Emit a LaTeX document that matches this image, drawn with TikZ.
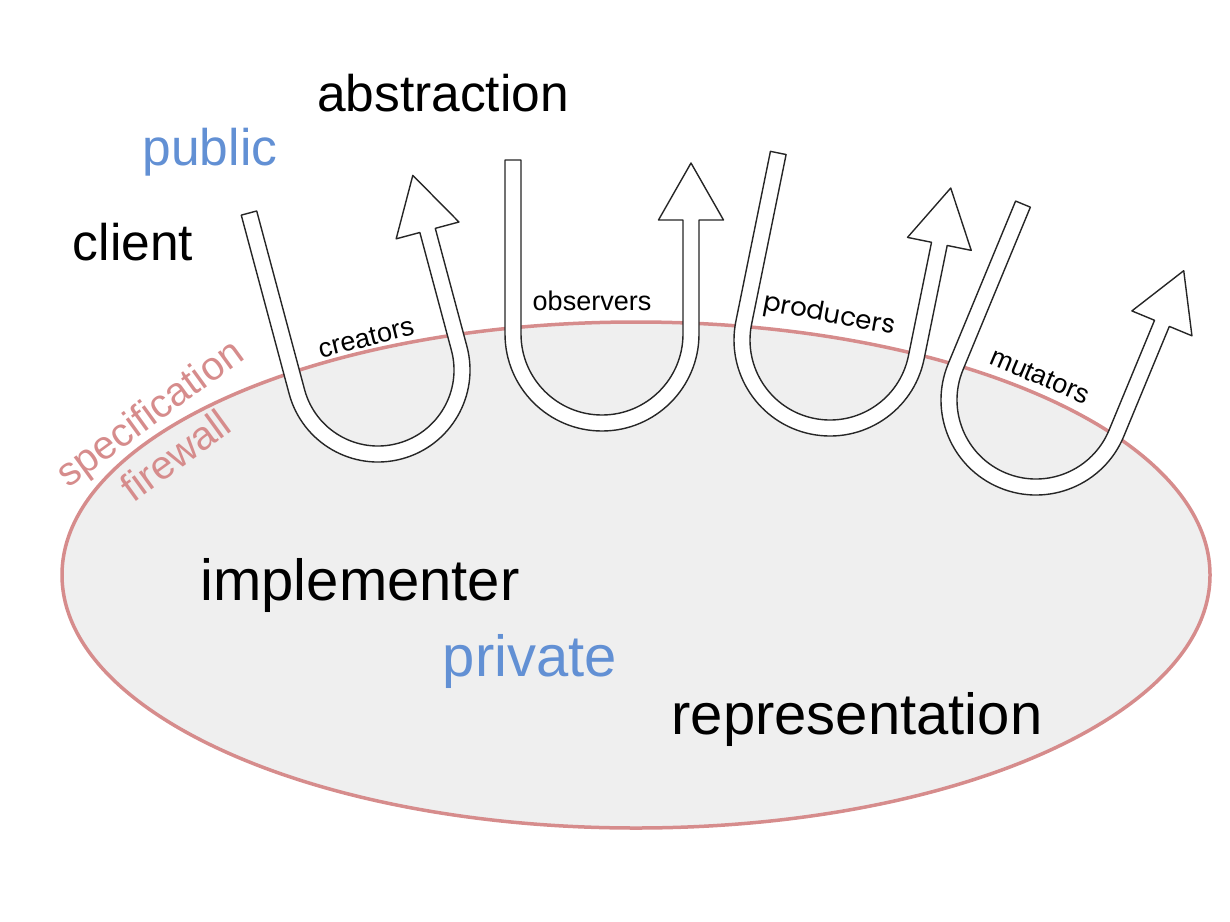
\documentclass[tikz,border=0pt]{standalone}
\usepackage{fontspec}
\setmainfont{Liberation Sans}
\newfontfamily\poppins{Poppins}
\usepackage{xcolor}
\usetikzlibrary{positioning}

\definecolor{wallred}{RGB}{214,140,140}
\definecolor{insidegray}{RGB}{239,239,239}
\definecolor{sideblue}{RGB}{98,144,212}

% hollow U arrow: centre x, centre y, rotation, radius, left leg, right leg
\newcommand{\uarrow}[6]{%
  \begin{scope}[shift={(#1,-#2)}, rotate=#3]
    \draw[tube] ({-#4-8},#5) -- ({-#4-8},0) arc[start angle=180, end angle=360, radius=#4+8]
      -- ({#4+8},#6) -- ({#4+32.5},#6) -- (#4,{#6+57}) -- ({#4-32.5},#6) -- ({#4-8},#6)
      -- ({#4-8},0) arc[start angle=0, end angle=-180, radius=#4-8] -- ({-#4+8},#5) -- cycle;
  \end{scope}}

\begin{document}
\begin{tikzpicture}[
        x=1pt, y=1pt,
        outerword/.style={font=\fontsize{51.5}{60}\selectfont, inner sep=0pt},
        innerword/.style={font=\fontsize{58}{66}\selectfont, inner sep=0pt},
        opword/.style={font=\fontsize{27}{32}\selectfont, inner sep=0pt},
        wallword/.style={font=\fontsize{40}{46}\selectfont, text=wallred, inner sep=0pt, rotate=36},
        tube/.style={draw=black!85, fill=white, line width=1.4pt, line join=round},
        implementation/.style={draw=wallred, fill=insidegray, line width=3.5pt}
    ]
    \useasboundingbox (0,0) rectangle (1230,-921);

    % the implementation side
    \draw[implementation] (636,-575) ellipse [x radius=574, y radius=253];

    % client side words
    \node [outerword] (abstraction) at (443,-93) {abstraction};
    \node [outerword, text=sideblue] (public) at (210,-152) {public};
    \node [outerword] (client) at (133,-242) {client};

    % implementer side words
    \node [innerword] (implementer) at (360,-585) {implementer};
    \node [innerword, text=sideblue] (private) at (530,-661) {private};
    \node [innerword] (representation) at (857,-719) {representation};

    % the firewall
    \node [wallword] (spec) at (151,-415) {specification};
    \node [wallword] (wall) at (175,-455) {firewall};

    % operations crossing the firewall
    \uarrow{378}{370}{15}{84}{185}{122}
    \uarrow{602}{334}{0}{89}{174}{114}
    \uarrow{830}{340}{-11.5}{88}{173}{116}
    \uarrow{1036}{400}{-22.5}{87}{176}{119}

    \node [opword, rotate=14] (creators) at (366,-338) {creators};
    \node [opword] (observers) at (592,-301) {observers};
    \node [opword, font=\poppins\fontsize{26}{30}\selectfont, rotate=-10.5] (producers) at (829,-316) {producers};
    \node [opword, rotate=-23] (mutators) at (1040,-376) {mutators};

\end{tikzpicture}
\end{document}
